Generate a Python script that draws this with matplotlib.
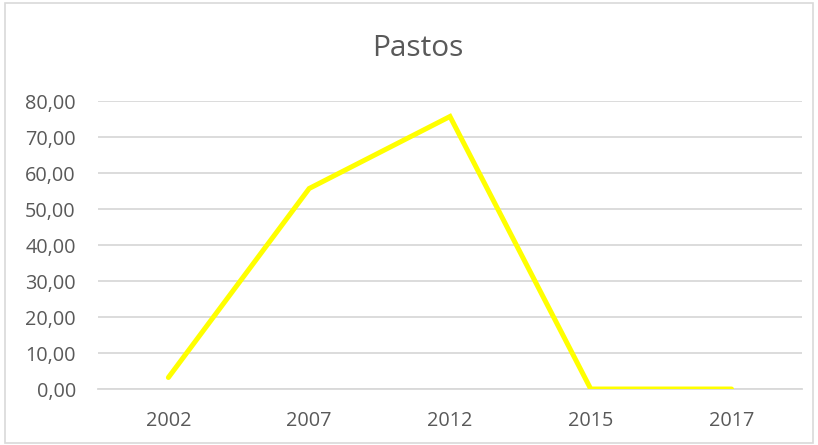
import matplotlib
matplotlib.use('Agg')
import matplotlib.pyplot as plt
from matplotlib.patches import Rectangle

years = ['2002', '2007', '2012', '2015', '2017']
pastos = [3.2, 55.7, 75.7, 0.0, 0.0]
yticks = [0, 10, 20, 30, 40, 50, 60, 70, 80]

plt.rcParams['font.family'] = ['Open Sans', 'DejaVu Sans']
txt = '#595959'
grid = '#D9D9D9'

fig = plt.figure(figsize=(8.18, 4.45), dpi=100)
ax = fig.add_axes([0.1198, 0.1258, 0.8606, 0.6472])

x = list(range(len(years)))
ax.plot(x, pastos, color='#FFFF00', lw=3.6, solid_joinstyle='miter', solid_capstyle='round', zorder=3)

ax.set_xlim(-0.5, len(years) - 0.5)
ax.set_ylim(0, 80)
ax.set_yticks(yticks)
ax.set_yticklabels([('%.2f' % v).replace('.', ',') for v in yticks])
ax.set_xticks(x)
ax.set_xticklabels(years)
ax.tick_params(axis='both', length=0, labelsize=14.3, colors=txt)
ax.tick_params(axis='y', pad=16)
ax.tick_params(axis='x', pad=16)

ax.grid(axis='y', color=grid, lw=1.3)
ax.set_axisbelow(True)
for s in ['top', 'right', 'left']:
    ax.spines[s].set_visible(False)
ax.spines['bottom'].set_color(grid)
ax.spines['bottom'].set_linewidth(1.3)

fig.text(0.511, 0.892, 'Pastos', ha='center', va='center', fontsize=21.5, color=txt)

# chart border
fig.patches.append(Rectangle((0.006, 0.004), 0.988, 0.99, transform=fig.transFigure,
                             fill=False, edgecolor='#D9D9D9', lw=1.2))

fig.savefig('out.png', dpi=100)
